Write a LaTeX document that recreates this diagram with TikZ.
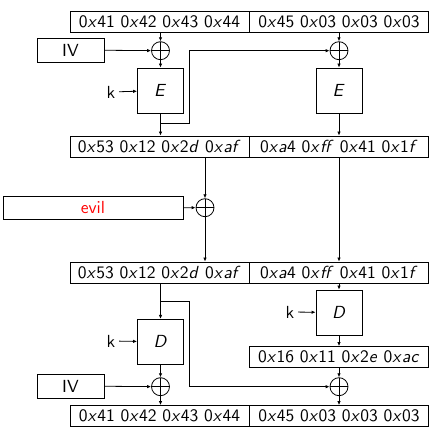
\documentclass[tikz,border=0pt]{standalone}
\usepackage{tikz}
\usepackage{xcolor}
\usetikzlibrary{
    arrows.meta,
    calc,
    positioning
}
\DeclareFontFamily{OT1}{sstext}{}
\DeclareFontShape{OT1}{sstext}{m}{n}{<-> cmss10}{}
\DeclareFontShape{OT1}{sstext}{m}{it}{<-> cmssi10}{}
\newcommand{\sstext}{\fontencoding{OT1}\fontfamily{sstext}\fontsize{17.5}{20}\selectfont}
\newcommand{\hx}[1]{0\textit{x}#1}

\tikzset{
    >={Latex[length=4pt, width=3.5pt]},
    every node/.style={font=\sstext},
    cell/.style={draw, minimum width=179pt, minimum height=21pt, inner sep=0pt},
    keybox/.style={draw, minimum width=46pt, minimum height=45pt, inner sep=0pt},
    ivbox/.style={draw, minimum width=67pt, minimum height=24pt, inner sep=0pt},
    xorop/.style={draw, circle, minimum size=18pt, inner sep=0pt,
        path picture={\draw (path picture bounding box.north) -- (path picture bounding box.south)
            (path picture bounding box.west) -- (path picture bounding box.east);}}
}

\begin{document}
\begin{tikzpicture}[x=1pt, y=-1pt, line width=0.8pt]
    \useasboundingbox (0, 0) rectangle (442, 438);

    % encryption
    \node[cell] (p1) at (159.5, 22) {\hx{41} \hx{42} \hx{43} \hx{44}};
    \node[cell] (p2) at (339, 22) {\hx{45} \hx{03} \hx{03} \hx{03}};
    \node[ivbox] (iv1) at (70.5, 50) {IV};
    \node[xorop] (x1) at (160.5, 50.7) {};
    \node[xorop] (x2) at (339, 50.7) {};
    \node[keybox] (e1) at (160.5, 90.5) {\textit{E}};
    \node[keybox] (e2) at (339, 90.5) {\textit{E}};
    \node (k1) at (111, 92) {k};
    \node[cell] (c1) at (159.5, 146.5) {\hx{53} \hx{12} \hx{2\textit{d}} \hx{\textit{af}}};
    \node[cell] (c2) at (339, 146.5) {\hx{\textit{a}4} \hx{\textit{ff}} \hx{41} \hx{1\textit{f}}};
    \coordinate (br1) at (189, 123);

    % tampering
    \node[draw, minimum width=180pt, minimum height=23pt, inner sep=0pt] (evil) at (93, 207.5) {\textcolor{red}{evil}};
    \node[xorop] (x3) at (205, 207.7) {};
    \node[cell] (m1) at (159.5, 272.5) {\hx{53} \hx{12} \hx{2\textit{d}} \hx{\textit{af}}};
    \node[cell] (m2) at (339, 272.5) {\hx{\textit{a}4} \hx{\textit{ff}} \hx{41} \hx{1\textit{f}}};

    % decryption
    \node[keybox] (d1) at (160.5, 341.8) {\textit{D}};
    \node[keybox] (d2) at (339, 312.5) {\textit{D}};
    \node (k2) at (111, 341) {k};
    \node (k3) at (290, 312) {k};
    \node[cell] (t2) at (339, 357) {\hx{16} \hx{11} \hx{2\textit{e}} \hx{\textit{ac}}};
    \node[ivbox] (iv2) at (70.5, 386) {IV};
    \node[xorop] (x4) at (160.5, 386.7) {};
    \node[xorop] (x5) at (339, 386.7) {};
    \node[cell] (r1) at (159.5, 416) {\hx{41} \hx{42} \hx{43} \hx{44}};
    \node[cell] (r2) at (339, 416) {\hx{45} \hx{03} \hx{03} \hx{03}};
    \coordinate (br2) at (189, 301.7);

    \draw
    (p1.south -| x1) edge[->] (x1)
    (iv1) edge[->] (x1)
    (x1) edge[->] (e1)
    (k1) edge[->] (e1)
    (p2.south -| x2) edge[->] (x2)
    (x2) edge[->] (e2)
    (e1) edge[->] (c1.north -| e1)
    (e2) edge[->] (c2.north -| e2)
    (c1.south -| x3) edge[->] (x3)
    (evil) edge[->] (x3)
    (x3) edge[->] (m1.north -| x3)
    (c2.south -| e2) edge[->] (m2.north -| e2)
    (m1.south -| d1) edge[->] (d1)
    (k2) edge[->] (d1)
    (m2.south -| d2) edge[->] (d2)
    (k3) edge[->] (d2)
    (d2) edge[->] (t2)
    (d1) edge[->] (x4)
    (iv2) edge[->] (x4)
    (t2) edge[->] (x5)
    (x4) edge[->] (r1.north -| x4)
    (x5) edge[->] (r2.north -| x5);

    \draw[->] (br1 -| e1) -- (br1) |- (x2);
    \draw[->] (br2 -| d1) -- (br2) |- (x5);
\end{tikzpicture}
\end{document}
